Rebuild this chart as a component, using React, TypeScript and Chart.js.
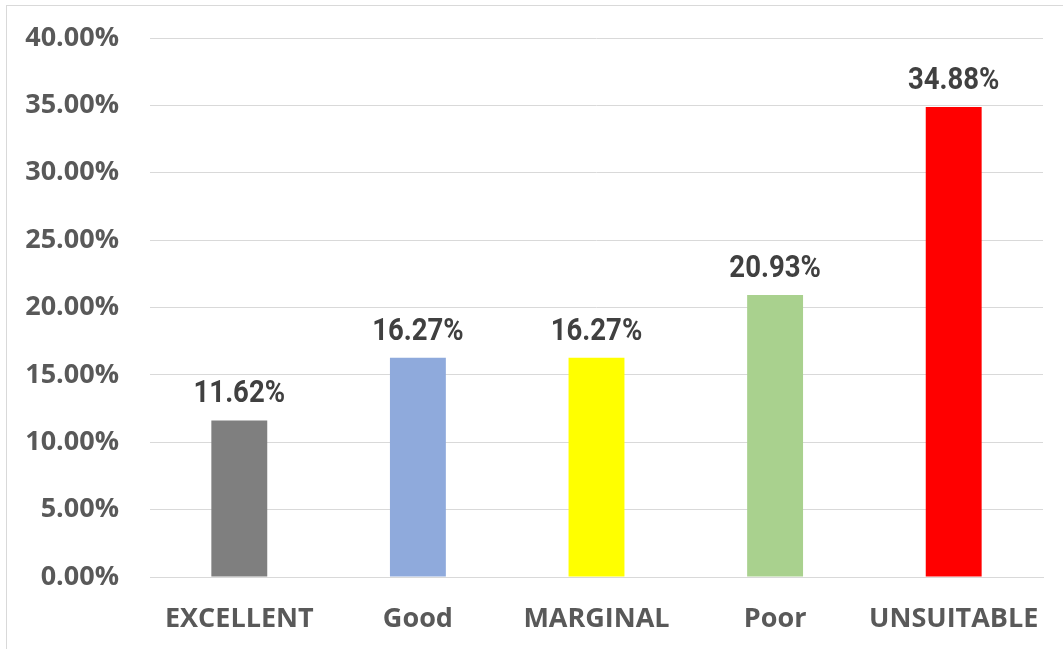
import React, { useEffect, useRef } from "react";
import { Chart, registerables } from "chart.js";

Chart.register(...registerables);

const categories = ["EXCELLENT", "Good", "MARGINAL", "Poor", "UNSUITABLE"];
const values = [11.62, 16.27, 16.27, 20.93, 34.88];
const barColors = ["#7f7f7f", "#8faadc", "#ffff00", "#a9d18e", "#ff0000"];
const yMin = 0;
const yMax = 40;
const yStep = 5;

const labelPlugin = {
  id: "barLabels",
  afterDatasetsDraw(chart: any) {
    const ctx = chart.ctx;
    const meta = chart.getDatasetMeta(0);
    const sx = 0.86;
    meta.data.forEach((bar: any, i: number) => {
      ctx.save();
      ctx.font = 'bold 32px "Roboto", sans-serif';
      ctx.fillStyle = "#404040";
      ctx.textAlign = "center";
      ctx.textBaseline = "alphabetic";
      ctx.translate(bar.x, bar.y - 18);
      ctx.scale(sx, 1);
      ctx.fillText(values[i].toFixed(2) + "%", 0, 0);
      ctx.restore();
    });
  },
};

export default function App() {
  const ref = useRef<HTMLCanvasElement | null>(null);
  useEffect(() => {
    document.body.style.margin = "0";
    const chart = new Chart(ref.current as HTMLCanvasElement, {
      type: "bar",
      data: {
        labels: categories,
        datasets: [
          {
            data: values,
            backgroundColor: barColors,
            categoryPercentage: 1,
            barPercentage: 0.313,
          },
        ],
      },
      options: {
        animation: false,
        responsive: false,
        maintainAspectRatio: false,
        layout: { padding: { top: 38, right: 20, bottom: 0, left: 0 } },
        plugins: { legend: { display: false }, tooltip: { enabled: false } },
        scales: {
          x: {
            grid: {
              display: true,
              color: "rgba(0,0,0,0)",
              drawTicks: true,
              tickLength: 26,
              tickColor: "rgba(0,0,0,0)",
            },
            border: { display: true, color: "#d9d9d9", width: 1 },
            ticks: {
              padding: 0,
              color: "#595959",
              font: { family: '"Open Sans", sans-serif', weight: "bold", size: 27 },
            },
            afterFit: (s: any) => {
              s.height = 72;
            },
          },
          y: {
            min: yMin,
            max: yMax,
            grid: {
              color: "#d9d9d9",
              lineWidth: 1,
              drawTicks: true,
              tickLength: 31,
              tickColor: "rgba(0,0,0,0)",
            },
            border: { display: false },
            ticks: {
              stepSize: yStep,
              padding: 0,
              color: "#595959",
              font: { family: '"Open Sans", sans-serif', weight: "bold", size: 27 },
              callback: (v: any) => Number(v).toFixed(2) + "%",
            },
            afterFit: (s: any) => {
              s.width = 150;
            },
          },
        },
      },
      plugins: [labelPlugin],
    });
    return () => chart.destroy();
  }, []);
  return (
    <div style={{ position: "absolute", left: 0, top: 0, width: 1063, height: 649, background: "#fff", overflow: "hidden" }}>
      <div
        style={{
          position: "absolute",
          left: 6,
          top: 5,
          width: 1100,
          height: 700,
          borderLeft: "1px solid #d9d9d9",
          borderTop: "1px solid #d9d9d9",
        }}
      />
      <canvas ref={ref} width={1063} height={649} style={{ position: "absolute", left: 0, top: 0 }} />
    </div>
  );
}
